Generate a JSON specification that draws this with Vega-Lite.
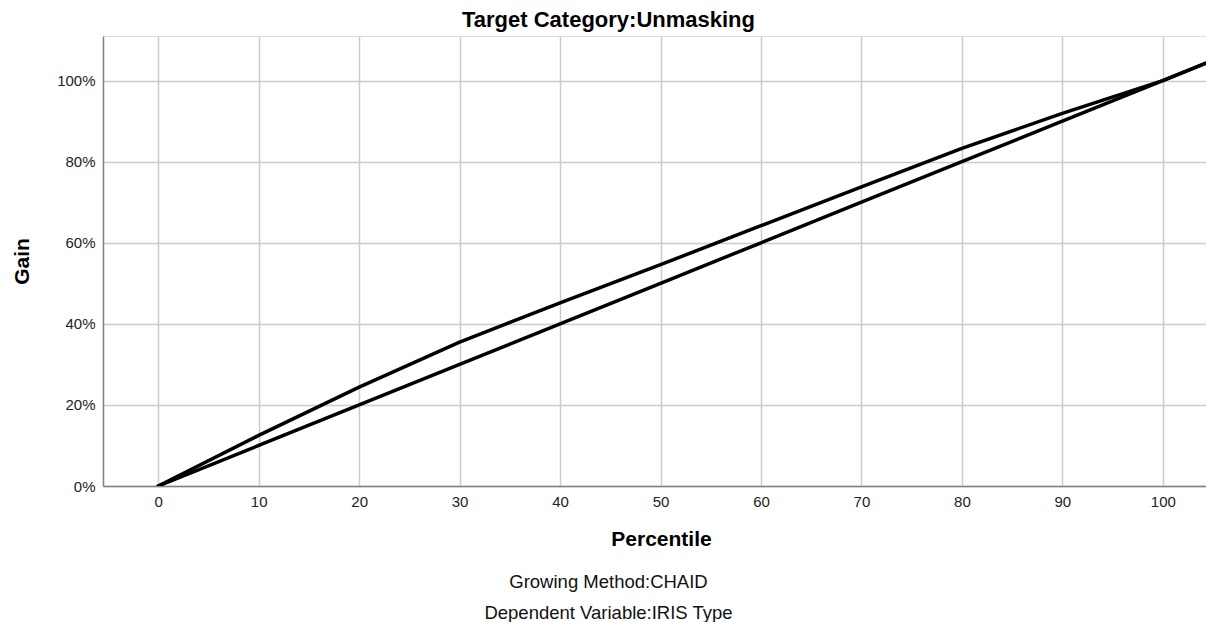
{
  "$schema": "https://vega.github.io/schema/vega-lite/v6.json",
  "autosize": "none",
  "width": 1103,
  "height": 450,
  "padding": {"left": 103, "top": 36, "right": 0, "bottom": 136},
  "background": "white",
  "title": {"text": "Target Category:Unmasking", "anchor": "middle", "frame": "bounds", "font": "Liberation Sans", "fontSize": 22, "fontWeight": "bold", "color": "black", "offset": 4},
  "data": {"values": [
    {"series": "Gain", "pct": 0, "gain": 0},
    {"series": "Gain", "pct": 10, "gain": 0.125},
    {"series": "Gain", "pct": 20, "gain": 0.244},
    {"series": "Gain", "pct": 30, "gain": 0.355},
    {"series": "Gain", "pct": 40, "gain": 0.452},
    {"series": "Gain", "pct": 50, "gain": 0.546},
    {"series": "Gain", "pct": 60, "gain": 0.642},
    {"series": "Gain", "pct": 70, "gain": 0.738},
    {"series": "Gain", "pct": 80, "gain": 0.833},
    {"series": "Gain", "pct": 90, "gain": 0.919},
    {"series": "Gain", "pct": 100, "gain": 1.0},
    {"series": "Gain", "pct": 110, "gain": 1.1},
    {"series": "Baseline", "pct": 0, "gain": 0},
    {"series": "Baseline", "pct": 10, "gain": 0.1},
    {"series": "Baseline", "pct": 20, "gain": 0.2},
    {"series": "Baseline", "pct": 30, "gain": 0.3},
    {"series": "Baseline", "pct": 40, "gain": 0.4},
    {"series": "Baseline", "pct": 50, "gain": 0.5},
    {"series": "Baseline", "pct": 60, "gain": 0.6},
    {"series": "Baseline", "pct": 70, "gain": 0.7},
    {"series": "Baseline", "pct": 80, "gain": 0.8},
    {"series": "Baseline", "pct": 90, "gain": 0.9},
    {"series": "Baseline", "pct": 100, "gain": 1.0},
    {"series": "Baseline", "pct": 110, "gain": 1.1}
  ]},
  "layer": [
    {
      "mark": {"type": "line", "color": "black", "strokeWidth": 3.5, "clip": true, "strokeJoin": "round", "strokeCap": "round"},
      "encoding": {
        "x": {"field": "pct", "type": "quantitative",
          "scale": {"domain": [-5.5, 104.3], "nice": false, "zero": false},
          "axis": {"values": [0, 10, 20, 30, 40, 50, 60, 70, 80, 90, 100], "grid": true, "gridColor": "#cccccc", "gridWidth": 1.5,
            "domainColor": "#808080", "domainWidth": 1.5, "ticks": false,
            "labelFont": "Liberation Sans", "labelFontSize": 15, "labelColor": "#222222", "labelPadding": 8,
            "title": "Percentile", "titleFont": "Liberation Sans", "titleFontSize": 21, "titleFontWeight": "bold", "titleColor": "black",
            "titleX": 558, "titleY": 59, "titleBaseline": "alphabetic", "titleAlign": "center"}},
        "y": {"field": "gain", "type": "quantitative",
          "scale": {"domain": [0, 1.11], "nice": false},
          "axis": {"values": [0, 0.2, 0.4, 0.6, 0.8, 1.0], "format": ".0%", "grid": true, "gridColor": "#cccccc", "gridWidth": 1.5,
            "domainColor": "#808080", "domainWidth": 1.5, "ticks": false,
            "labelFont": "Liberation Sans", "labelFontSize": 15, "labelColor": "#222222", "labelPadding": 8,
            "title": "Gain", "titleFont": "Liberation Sans", "titleFontSize": 21, "titleFontWeight": "bold", "titleColor": "black",
            "titleX": -75, "titleY": 225, "titleBaseline": "alphabetic", "titleAlign": "center", "titleAngle": -90}},
        "detail": {"field": "series"}
      }
    },
    {
      "mark": {"type": "point", "opacity": 0, "clip": true},
      "encoding": {
        "x": {"field": "pct", "type": "quantitative",
          "axis": {"orient": "bottom", "domain": false, "ticks": false, "labels": false, "grid": false,
            "title": ["Growing Method:CHAID", "Dependent Variable:IRIS Type"],
            "titleFont": "Liberation Sans", "titleFontSize": 18.5, "titleFontWeight": "normal", "titleColor": "#111111",
            "titleLineHeight": 31, "titleX": 505, "titleY": 101, "titleAlign": "center", "titleBaseline": "alphabetic"}}
      }
    }
  ],
  "resolve": {"axis": {"x": "independent"}}
}
